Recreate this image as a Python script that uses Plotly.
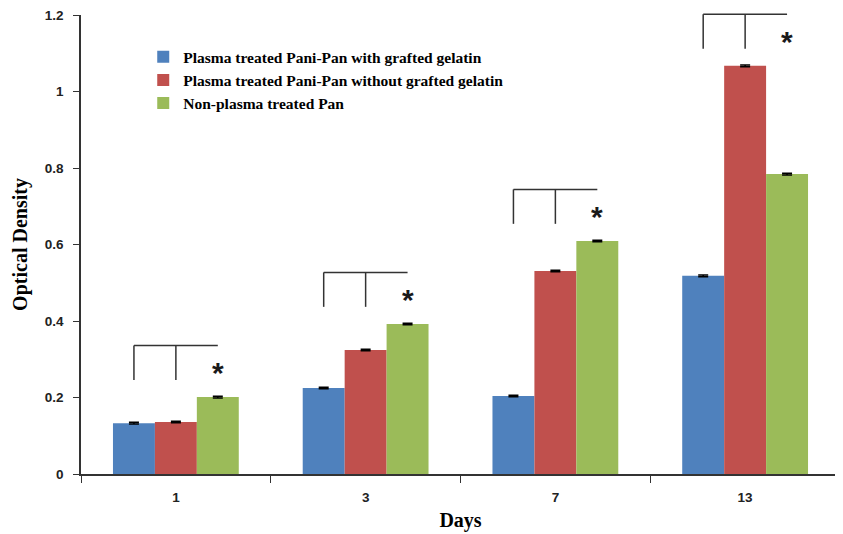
import plotly.graph_objects as go

days = ["1", "3", "7", "13"]
series_names = [
    "Plasma treated Pani-Pan with grafted gelatin",
    "Plasma treated Pani-Pan without grafted gelatin",
    "Non-plasma treated Pan",
]
with_gelatin = [0.133, 0.225, 0.204, 0.518]
without_gelatin = [0.136, 0.324, 0.531, 1.067]
non_plasma = [0.201, 0.392, 0.609, 0.784]
errors = [0.002, 0.002, 0.002, 0.002]
colors = ["#4F81BD", "#C0504D", "#9BBB59"]

fig = go.Figure()
for name, vals, col in zip(series_names, [with_gelatin, without_gelatin, non_plasma], colors):
    fig.add_trace(go.Bar(
        x=days, y=vals, name=name, marker=dict(color=col, line=dict(width=0)),
        error_y=dict(type="data", array=errors, visible=True, color="black", thickness=1.5, width=5),
    ))

BARGAP = 0.337
bw = (1 - BARGAP) / 3
shapes = []
annotations = []
line = dict(color="#333333", width=1.5)
for i in range(len(days)):
    top = max(with_gelatin[i], without_gelatin[i], non_plasma[i])
    x_blue, x_red, x_green = i - bw, i, i + bw
    y_h = (top + 0.135) / 1.2
    y_v = (top + 0.045) / 1.2
    shapes.append(dict(type="line", xref="x", yref="paper", x0=x_blue, x1=x_green, y0=y_h, y1=y_h, line=line))
    shapes.append(dict(type="line", xref="x", yref="paper", x0=x_blue, x1=x_blue, y0=y_h, y1=y_v, line=line))
    shapes.append(dict(type="line", xref="x", yref="paper", x0=x_red, x1=x_red, y0=y_h, y1=y_v, line=line))
    annotations.append(dict(x=x_green, y=top + 0.064, xref="x", yref="y", text="<b>*</b>",
                            showarrow=False, yanchor="middle",
                            font=dict(size=30, color="#1a1a1a", family="Liberation Sans")))

# page body has an 8px default margin, so the figure is sized to fit the 843x534 window
fig.update_layout(
    width=835, height=526,
    margin=dict(l=73, r=3, t=7, b=60, autoexpand=False),
    paper_bgcolor="white", plot_bgcolor="white",
    barmode="group", bargap=BARGAP, bargroupgap=0,
    shapes=shapes, annotations=annotations,
    legend=dict(x=0.082, y=0.945, xanchor="left", yanchor="top",
                font=dict(family="Liberation Serif", size=15.5, color="black", weight="bold"),
                bgcolor="rgba(0,0,0,0)", tracegroupgap=0, itemwidth=30),
    showlegend=True,
)
fig.update_xaxes(
    type="category", tickson="boundaries", ticks="outside", ticklen=7, tickcolor="#333",
    showline=True, linecolor="#333", linewidth=1.5, showgrid=False, automargin=False,
    ticklabelstandoff=10,
    tickfont=dict(family="Liberation Sans", size=13.5, color="#222", weight="bold"),
    title=dict(text="<b>Days</b>", font=dict(family="Liberation Serif", size=20, color="black"), standoff=9),
)
fig.update_yaxes(
    range=[0, 1.2], dtick=0.2, tickformat="~g", ticks="outside", ticklen=6, tickcolor="#333",
    showline=True, linecolor="#333", linewidth=1.5, showgrid=False, zeroline=False, automargin=False,
    ticklabeloverflow="allow", ticklabelstandoff=7,
    tickfont=dict(family="Liberation Sans", size=13.5, color="#222", weight="bold"),
    title=dict(text="<b>Optical Density</b>", font=dict(family="Liberation Serif", size=20, color="black"), standoff=12),
)
fig.write_html("out.html")
